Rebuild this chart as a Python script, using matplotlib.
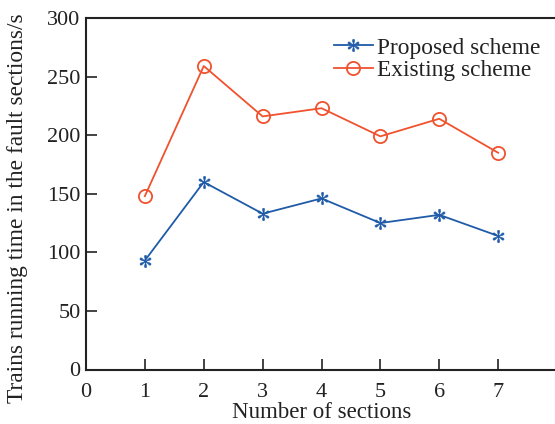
import matplotlib
matplotlib.use("Agg")
import matplotlib.pyplot as plt

sections = [1, 2, 3, 4, 5, 6, 7]
proposed = [93, 160, 133, 146, 125, 132, 114]
existing = [148, 259, 216, 223, 199, 214, 185]
xticks = [0, 1, 2, 3, 4, 5, 6, 7]
yticks = [0, 50, 100, 150, 200, 250, 300]

plt.rcParams['font.family'] = ['Liberation Serif', 'DejaVu Serif']
plt.rcParams['mathtext.fontset'] = 'stix'

blue = '#1f5ba8'
red = '#f0522e'

fig = plt.figure(figsize=(5.55, 4.24), dpi=100)
ax = fig.add_axes([86/555, (424-369.5)/424, (557-86)/555, (369.5-18)/424])

ax.plot(sections, proposed, color=blue, lw=1.3, marker='$\\ast$', markersize=9,
        markeredgewidth=0.4, label='Proposed scheme')
ax.plot(sections, existing, color=red, lw=1.3, marker='o', markersize=9.5,
        markerfacecolor='none', markeredgewidth=1.3, label='Existing scheme')

ax.set_xlim(0, 8)
ax.set_ylim(0, 300)
ax.set_xticks(xticks)
ax.set_yticks(yticks)
ax.tick_params(direction='in', length=8, width=1.2, labelsize=16, color='#222222',
               labelcolor='#222222')
ax.tick_params(axis='x', pad=10)
ax.tick_params(axis='y', pad=4)
for s in ['left', 'bottom', 'top']:
    ax.spines[s].set_linewidth(1.5)
    ax.spines[s].set_color('#222222')
ax.spines['right'].set_visible(False)

ax.set_xlabel('Number of sections', fontsize=16.5, color='#222222', labelpad=0)
fig.text(18/555, 1 - 208/424, 'Trains running time in the fault sections/s',
         fontsize=16.8, color='#222222', rotation=90, ha='center', va='center')

leg = ax.legend(loc='upper right', bbox_to_anchor=(0.995, 0.985), frameon=False,
                fontsize=16.8, handlelength=1.65, handletextpad=0.2, labelspacing=0.05,
                borderaxespad=0.2)
for t in leg.get_texts():
    t.set_color('#222222')

fig.savefig('out.png', dpi=100)
